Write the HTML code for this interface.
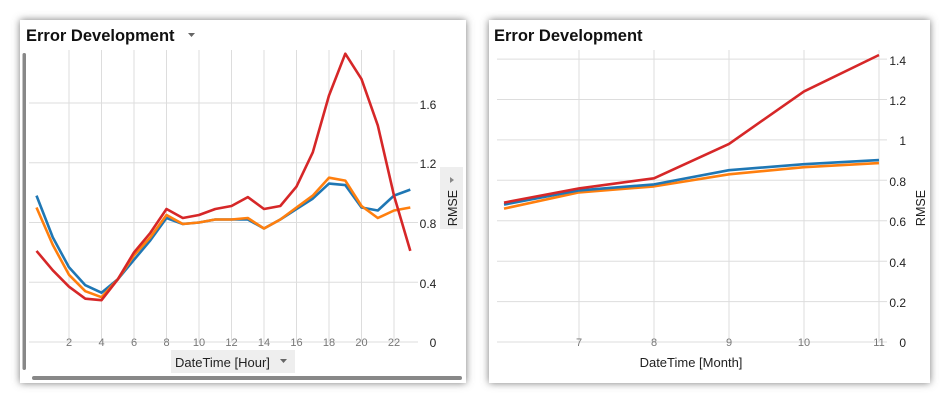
<!DOCTYPE html>
<html><head><meta charset="utf-8"><style>
html,body{margin:0;padding:0;background:#fff;width:950px;height:403px;overflow:hidden}
svg{position:absolute;left:0;top:0}
text{font-family:"Liberation Sans",sans-serif}
</style></head><body>
<svg width="950" height="403" viewBox="0 0 950 403">
<defs>
<filter id="sh" x="-10%" y="-10%" width="120%" height="120%"><feGaussianBlur stdDeviation="4"/></filter>
</defs>
<rect x="20" y="20" width="446" height="363" fill="#777" filter="url(#sh)"/>
<rect x="489" y="20" width="441" height="363" fill="#777" filter="url(#sh)"/>
<rect x="20" y="20" width="446" height="363" fill="#fff"/>
<rect x="489" y="20" width="441" height="363" fill="#fff"/>

<!-- LEFT -->
<text x="26" y="41" font-size="16.5" font-weight="bold" fill="#111">Error Development</text>
<path d="M188 33 h7 l-3.5 4z" fill="#666"/>
<g stroke="#ddd" stroke-width="1">
<line x1="69" y1="50" x2="69" y2="342"/><line x1="101.5" y1="50" x2="101.5" y2="342"/><line x1="134" y1="50" x2="134" y2="342"/><line x1="166.5" y1="50" x2="166.5" y2="342"/><line x1="199" y1="50" x2="199" y2="342"/><line x1="231.5" y1="50" x2="231.5" y2="342"/><line x1="264" y1="50" x2="264" y2="342"/><line x1="296.5" y1="50" x2="296.5" y2="342"/><line x1="329" y1="50" x2="329" y2="342"/><line x1="361.5" y1="50" x2="361.5" y2="342"/><line x1="394" y1="50" x2="394" y2="342"/>
<line x1="29" y1="342" x2="418" y2="342"/><line x1="29" y1="282.2" x2="418" y2="282.2"/><line x1="29" y1="222.5" x2="418" y2="222.5"/><line x1="29" y1="162.7" x2="418" y2="162.7"/><line x1="29" y1="103" x2="418" y2="103"/>
</g>
<g font-size="11" fill="#777" text-anchor="middle">
<text x="69" y="346">2</text><text x="101.5" y="346">4</text><text x="134" y="346">6</text><text x="166.5" y="346">8</text><text x="199" y="346">10</text><text x="231.5" y="346">12</text><text x="264" y="346">14</text><text x="296.5" y="346">16</text><text x="329" y="346">18</text><text x="361.5" y="346">20</text><text x="394" y="346">22</text>
</g>
<g font-size="12" fill="#222" text-anchor="middle">
<text x="433" y="347">0</text><text x="428" y="288">0.4</text><text x="428" y="228">0.8</text><text x="428" y="168">1.2</text><text x="428" y="109">1.6</text>
</g>
<rect x="440" y="167" width="23" height="62" fill="#eee"/>
<path d="M450 177 l4 3 l-4 3z" fill="#888"/>
<text transform="translate(457,208) rotate(-90)" font-size="12.5" fill="#222" text-anchor="middle">RMSE</text>
<rect x="171" y="350" width="124" height="23" fill="#eee"/>
<text x="175" y="367" font-size="13" fill="#222">DateTime [Hour]</text>
<path d="M280 359 h7 l-3.5 4z" fill="#666"/>
<rect x="22.5" y="53" width="3.5" height="317" rx="1.7" fill="#888"/>
<rect x="32" y="376" width="430" height="4" rx="2" fill="#888"/>
<g fill="none" stroke-width="2.6" stroke-linejoin="round">
<polyline stroke="#1f77b4" points="36.5,195.6 52.8,237.4 69,267.3 85.3,285.2 101.5,292.7 117.8,279.3 134,259.8 150.3,240.4 166.5,218 182.8,224 199,222.5 215.3,219.5 231.5,219.5 247.8,219.5 264,228.5 280.3,219.5 296.5,209 312.8,198.6 329,183.6 345.3,185.1 361.5,207.5 377.8,210.5 394,195.6 410.3,189.6"/>
<polyline stroke="#ff7f0e" points="36.5,207.5 52.8,244.9 69,274.8 85.3,291.2 101.5,297.2 117.8,279.3 134,255.3 150.3,237.4 166.5,215 182.8,224 199,222.5 215.3,219.5 231.5,219.5 247.8,218 264,228.5 280.3,219.5 296.5,207.5 312.8,195.6 329,177.7 345.3,180.6 361.5,206 377.8,218 394,210.5 410.3,207.5"/>
<polyline stroke="#d62728" points="36.5,250.9 52.8,270.3 69,286.7 85.3,298.7 101.5,300.2 117.8,279.3 134,252.4 150.3,232.9 166.5,209 182.8,218 199,215 215.3,209 231.5,206 247.8,197.1 264,209 280.3,206 296.5,186.6 312.8,152.3 329,95.5 345.3,53.7 361.5,79.1 377.8,125.4 394,195.6 410.3,250.9"/>
</g>

<!-- RIGHT -->
<text x="494" y="41" font-size="16.5" font-weight="bold" fill="#111">Error Development</text>
<g stroke="#ddd" stroke-width="1">
<line x1="579" y1="50" x2="579" y2="342"/><line x1="654" y1="50" x2="654" y2="342"/><line x1="729" y1="50" x2="729" y2="342"/><line x1="804" y1="50" x2="804" y2="342"/><line x1="879" y1="50" x2="879" y2="342"/>
<line x1="497" y1="342" x2="887" y2="342"/><line x1="497" y1="301.6" x2="887" y2="301.6"/><line x1="497" y1="261.2" x2="887" y2="261.2"/><line x1="497" y1="220.7" x2="887" y2="220.7"/><line x1="497" y1="180.3" x2="887" y2="180.3"/><line x1="497" y1="139.9" x2="887" y2="139.9"/><line x1="497" y1="99.5" x2="887" y2="99.5"/><line x1="497" y1="59.1" x2="887" y2="59.1"/>
</g>
<g font-size="11" fill="#777" text-anchor="middle">
<text x="579" y="346">7</text><text x="654" y="346">8</text><text x="729" y="346">9</text><text x="804" y="346">10</text><text x="879" y="346">11</text>
</g>
<g font-size="12" fill="#222" text-anchor="end">
<text x="906" y="347">0</text><text x="906" y="307">0.2</text><text x="906" y="267">0.4</text><text x="906" y="226">0.6</text><text x="906" y="186">0.8</text><text x="906" y="145">1</text><text x="906" y="105">1.2</text><text x="906" y="65">1.4</text>
</g>
<text transform="translate(925,208) rotate(-90)" font-size="12.5" fill="#222" text-anchor="middle">RMSE</text>
<text x="691" y="367" font-size="13" fill="#222" text-anchor="middle">DateTime [Month]</text>
<g fill="none" stroke-width="2.6" stroke-linejoin="round">
<polyline stroke="#ff7f0e" points="504,208.6 579,192.4 654,186.4 729,174.3 804,167.2 879,163.1"/>
<polyline stroke="#1f77b4" points="504,204.6 579,190.4 654,184.4 729,170.2 804,164.2 879,160.1"/>
<polyline stroke="#d62728" points="504,202.6 579,188.4 654,178.3 729,143.9 804,91.4 879,55"/>
</g>
</svg>
</body></html>
